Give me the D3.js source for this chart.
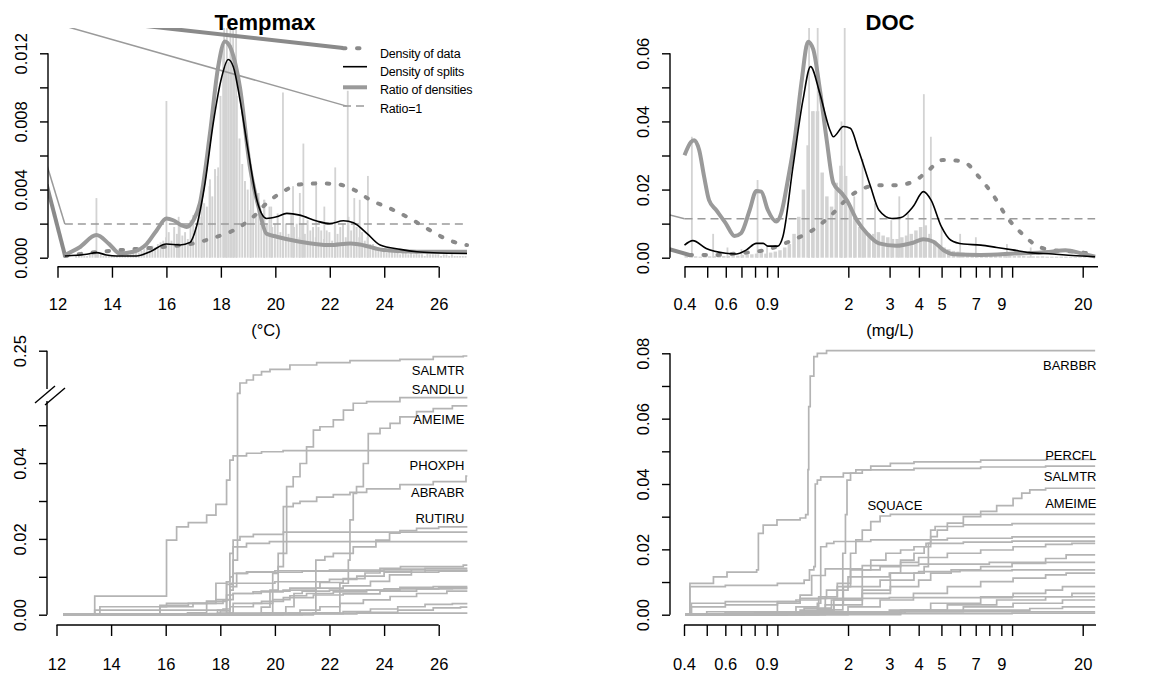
<!DOCTYPE html>
<html>
<head>
<meta charset="utf-8">
<script src="https://d3js.org/d3.v7.min.js"></script>
<style>
  body { margin: 0; background: #fff; }
  text { font-family: "Liberation Sans", Arial, sans-serif; fill: #000; }
</style>
</head>
<body>
<div id="chart"></div>
<script>
// ---- axis ticks / labels ----
const tempTicks = [12, 14, 16, 18, 20, 22, 24, 26];
const tempYTicks = [0, 0.002, 0.004, 0.006, 0.008, 0.010, 0.012];
const tempYLabels = [0, 0.004, 0.008, 0.012];
const docTicks = [0.4, 0.5, 0.6, 0.7, 0.8, 0.9, 1, 2, 3, 4, 5, 6, 7, 8, 9, 10, 20];
const docLabels = [0.4, 0.6, 0.9, 2, 3, 4, 5, 7, 9, 20];
const docYTicks = [0, 0.01, 0.02, 0.03, 0.04, 0.05, 0.06];
const docYLabels = [0, 0.02, 0.04, 0.06];
const tempCumYTicks = [0, 0.01, 0.02, 0.03, 0.04, 0.05, 0.25];
const tempCumYLabels = [0, 0.02, 0.04, 0.25];
const docCumYTicks = [0, 0.01, 0.02, 0.03, 0.04, 0.05, 0.06, 0.07, 0.08];
const docCumYLabels = [0, 0.02, 0.04, 0.06, 0.08];

// ---- Tempmax: split histogram (units of 1e-4), bins of 0.1 from 12.3 ----
const tempHistStart = 12.3, tempHistStep = 0.1;
const tempHist = [
  0, 0, 0, 0, 1, 1, 1,
  1, 1, 2, 2, 2, 3, 2, 1, 1, 1,
  1, 1, 1, 1, 2, 1, 2, 2, 3, 3,
  3, 4, 5, 6, 6, 7, 6, 8, 9, 10,
  12, 15, 10, 18, 14, 20, 13, 15, 11, 22,
  25, 18, 28, 24, 32, 30, 42, 36, 52, 48,
  95, 125, 112, 115, 125, 110, 95, 70, 55, 45,
  40, 28, 45, 26, 38, 22, 34, 20, 30, 18,
  20, 26, 15, 24, 20, 14, 25, 18, 20, 12,
  20, 14, 22, 16, 18, 12, 18, 16, 11, 16,
  15, 10, 22, 14, 18, 20, 12, 24, 16, 20,
  18, 12, 15, 10, 12, 8, 8, 6, 6, 5,
  5, 3, 4, 5, 4, 3, 2, 3, 3, 2,
  3, 2, 3, 2, 2, 1, 3, 2, 2, 2,
  2, 1, 2, 2, 1, 2, 1, 1, 1, 1,
  1
];
const tempSpikes = [
  [13.43, 35], [16.0, 92], [16.45, 24], [17.3, 34], [17.6, 46], [17.9, 53],
  [18.12, 160], [18.22, 160], [18.35, 140], [18.45, 160], [18.56, 150],
  [19.1, 55], [19.6, 34], [19.85, 30], [20.28, 97], [20.65, 42], [20.9, 38],
  [21.03, 67], [21.5, 45], [21.8, 30], [22.2, 53], [22.66, 98], [22.9, 35],
  [23.1, 34], [23.4, 48]
];
const tempData = [
  [12.27, 0.0001], [13.56, 0.00035], [14.78, 0.0005], [16.0, 0.00065], [16.99, 0.00084],
  [17.85, 0.00123], [18.46, 0.0016], [19.19, 0.0024], [19.68, 0.0032], [20.3, 0.0039],
  [20.9, 0.0043], [21.64, 0.00436], [22.26, 0.00432], [22.87, 0.0040], [23.48, 0.0034],
  [24.2, 0.0029], [24.95, 0.0023], [25.69, 0.0016], [26.42, 0.0010], [27.04, 0.00074]
];
const tempSplits = [
  [12.27, 0.0001], [13.07, 0.0002], [13.43, 0.0003], [13.8, 0.00016], [14.17, 0.0001],
  [14.9, 0.0001], [15.4, 0.00035], [16.0, 0.0008], [16.5, 0.00075], [16.87, 0.0009],
  [17.1, 0.0018], [17.42, 0.0044], [17.72, 0.0079], [18.03, 0.0106], [18.27, 0.01164],
  [18.46, 0.0112], [18.7, 0.0093], [19.0, 0.0063], [19.32, 0.0034], [19.68, 0.0023],
  [20.05, 0.0024], [20.42, 0.0026], [20.9, 0.0025], [21.52, 0.00215], [22.0, 0.0020],
  [22.5, 0.00217], [22.87, 0.00205], [23.36, 0.00143], [23.85, 0.00074], [24.59, 0.00049],
  [25.2, 0.00035], [25.8, 0.00029], [27.04, 0.00025]
];
const tempRatio = [
  [12.27, 0.00016], [12.8, 0.0006], [13.43, 0.00133], [13.9, 0.0008], [14.29, 0.00025],
  [14.78, 0.00035], [15.27, 0.0008], [15.64, 0.0016], [16.0, 0.0023], [16.25, 0.0022],
  [16.56, 0.0019], [16.74, 0.0018], [16.99, 0.0022], [17.23, 0.0032], [17.6, 0.0073],
  [17.9, 0.0112], [18.15, 0.0127], [18.33, 0.0124], [18.7, 0.0100], [19.07, 0.0053],
  [19.38, 0.0030], [19.68, 0.0014], [20.05, 0.00123], [20.9, 0.00094], [22.0, 0.00074],
  [22.75, 0.00084], [23.1, 0.00078], [23.97, 0.00045], [25.2, 0.00035], [27.04, 0.00035]
];
const tempRatioOne = 0.00198;
const tempRange = [12.27, 27.04];
const tempThinLinks = [[[11.6, 0.0139], [22.62, 0.0089]], [[11.6, 0.0055], [12.27, 0.00198]]];
const tempThickLinks = [[[11.6, 0.01425], [22.49, 0.01231]], [[11.6, 0.0043], [12.27, 0.00016]]];

// ---- DOC: split histogram (units of 1e-4), log bins of 0.02 decades from 0.4 ----
const docHistStart = 0.4, docHistLogStep = 0.02;
const docHist = [
  5, 8, 4, 3, 3, 4, 5, 6, 5, 5,
  6, 6, 8, 8, 10, 12, 14, 12, 15, 18,
  22, 30, 40, 70, 120, 200, 330, 430, 430, 250,
  180, 150, 220, 270, 240, 150, 110, 90, 80, 70,
  70, 75, 65, 60, 55, 55, 60, 65, 70, 80,
  90, 95, 70, 50, 35, 30, 25, 20, 18, 15,
  14, 12, 10, 10, 9, 8, 8, 7, 6, 6,
  5, 5, 5, 4, 4, 4, 4, 3, 3, 3,
  3, 3, 2, 2, 2, 2, 1, 1
];
const docSpikes = [
  [0.43, 355], [0.53, 70], [0.61, 30], [0.7, 25], [0.82, 228], [0.9, 35],
  [1.36, 720], [1.42, 430], [1.48, 720], [1.87, 400], [1.93, 720], [2.12, 180],
  [2.3, 290], [2.6, 160], [3.05, 110], [3.3, 180], [3.6, 130], [4.2, 480],
  [4.5, 355], [5.0, 90], [6.0, 70], [7.0, 60], [9.5, 40], [12.0, 30]
];
const docData = [
  [0.42, 0.0008], [0.53, 0.0008], [0.69, 0.0013], [0.9, 0.0024], [1.16, 0.0052],
  [1.41, 0.0081], [1.72, 0.0130], [2.02, 0.0179], [2.33, 0.0204], [2.71, 0.0213],
  [3.2, 0.0213], [3.78, 0.0223], [4.32, 0.0252], [5.07, 0.0287], [5.78, 0.0285],
  [6.38, 0.0277], [7.2, 0.0238], [8.2, 0.0189], [9.6, 0.0115], [11.0, 0.0071],
  [13.0, 0.0032], [15.4, 0.0021], [18.2, 0.0018], [20.8, 0.0013], [22.6, 0.0005]
];
const docSplits = [
  [0.4, 0.0037], [0.434, 0.0050], [0.495, 0.0027], [0.60, 0.0013], [0.665, 0.0011],
  [0.735, 0.0023], [0.81, 0.0042], [0.867, 0.0042], [0.907, 0.0034], [1.0, 0.0034],
  [1.052, 0.0062], [1.161, 0.0267], [1.281, 0.0463], [1.38, 0.0561], [1.512, 0.0482],
  [1.668, 0.0375], [1.726, 0.0355], [1.906, 0.0385], [2.04, 0.0380], [2.21, 0.0316],
  [2.49, 0.0208], [2.70, 0.0140], [3.07, 0.0115], [3.36, 0.0118], [3.78, 0.0150],
  [4.18, 0.0194], [4.51, 0.0169], [4.99, 0.0091], [5.46, 0.0052], [6.2, 0.0040],
  [7.35, 0.0037], [8.6, 0.0030], [10.05, 0.0023], [11.84, 0.0015], [14.9, 0.0011],
  [16.9, 0.0008], [19.9, 0.0005], [22.6, 0.0003]
];
const docRatio = [
  [0.4, 0.0301], [0.427, 0.0340], [0.44, 0.0345], [0.462, 0.0316], [0.485, 0.0238],
  [0.509, 0.0169], [0.546, 0.0140], [0.60, 0.0101], [0.654, 0.0064], [0.697, 0.0072],
  [0.759, 0.0140], [0.81, 0.0196], [0.85, 0.0194], [0.907, 0.0140], [0.985, 0.0106],
  [1.035, 0.0131], [1.104, 0.0228], [1.18, 0.0346], [1.261, 0.0512], [1.347, 0.0634],
  [1.416, 0.0612], [1.512, 0.0494], [1.616, 0.0347], [1.726, 0.0219], [1.875, 0.0189],
  [1.97, 0.0169], [2.176, 0.0110], [2.404, 0.0071], [2.703, 0.0042], [3.196, 0.0035],
  [3.779, 0.0044], [4.177, 0.0054], [4.616, 0.0047], [5.10, 0.0022], [5.64, 0.0010],
  [7.35, 0.0008], [10.25, 0.0012], [14.29, 0.0017], [16.88, 0.0022], [19.94, 0.0012],
  [22.6, 0.0003]
];
const docRatioOne = 0.01145;
const docRange = [0.4, 22.6];
const docThinLinks = [[[0.3, 0.0136], [0.4, 0.01145]]];
const docThickLinks = [[[0.3, 0.0037], [0.42, 0.0008]]];

// ---- cumulative importance curves (step functions) ----
const tempCumEnd = 27.05;
const tempCumul = [
  [[12.24, 0], [13.40, 0.0049], [16.03, 0.0197], [16.40, 0.0232], [16.83, 0.0243], [17.50, 0.0263], [17.84, 0.0291], [18.23, 0.0355], [18.35, 0.0408], [18.47, 0.0419], [18.96, 0.0426], [19.51, 0.0430], [20.30, 0.0433]],
  [[12.24, 0], [17.60, 0.0003], [18.23, 0.0080], [18.47, 0.0144], [18.63, 0.065], [18.72, 0.1097], [18.96, 0.1227], [19.21, 0.1444], [19.51, 0.1588], [19.82, 0.1692], [20.55, 0.1879], [21.53, 0.1979], [22.75, 0.2066], [24.58, 0.2126], [25.80, 0.2239], [26.90, 0.2270]],
  [[12.24, 0], [19.50, 0.0005], [19.92, 0.0109], [20.12, 0.0162], [20.31, 0.0285], [20.43, 0.0338], [20.67, 0.0364], [20.92, 0.0399], [21.16, 0.0443], [21.41, 0.0487], [21.65, 0.0496], [22.14, 0.0514], [22.51, 0.0540], [22.87, 0.0558], [23.36, 0.0562], [24.58, 0.0573]],
  [[12.24, 0], [21.40, 0.0005], [22.38, 0.0083], [22.69, 0.0144], [22.75, 0.0250], [22.87, 0.0320], [22.99, 0.0338], [23.24, 0.0399], [23.42, 0.0478], [23.85, 0.0492], [24.22, 0.0505], [24.58, 0.0522], [25.19, 0.0536], [25.80, 0.0544], [26.50, 0.0551]],
  [[12.24, 0], [19.50, 0.0020], [19.82, 0.0065], [20.12, 0.0127], [20.31, 0.0162], [20.43, 0.0285], [20.67, 0.0294], [20.92, 0.0299], [21.53, 0.0310], [22.14, 0.0317], [22.75, 0.0323], [23.36, 0.0332], [24.58, 0.0343], [25.80, 0.0351], [27.00, 0.0366]],
  [[12.24, 0], [21.41, 0.0004], [21.50, 0.0144], [21.83, 0.0153], [22.14, 0.0162], [22.87, 0.0179], [23.70, 0.0197], [24.20, 0.0215], [24.58, 0.0222], [25.19, 0.0228], [26.00, 0.0232]],
  [[12.24, 0], [17.90, 0.0012], [18.23, 0.0087], [18.35, 0.0162], [18.47, 0.0197], [18.72, 0.0206], [19.21, 0.0212], [20.31, 0.0218]],
  [[12.24, 0], [18.00, 0.0010], [18.35, 0.0065], [18.47, 0.0179], [18.96, 0.0188], [19.80, 0.0193]],
  [[12.24, 0], [16.80, 0.0005], [17.50, 0.0035], [17.84, 0.0083], [18.23, 0.0087], [18.35, 0.0100], [18.47, 0.0109], [18.96, 0.0113], [20.00, 0.0116], [22.00, 0.0118], [24.00, 0.0120], [25.50, 0.0122]],
  [[12.24, 0], [15.79, 0.0025], [16.83, 0.0030], [17.84, 0.0040], [18.47, 0.0056], [19.50, 0.0062], [20.55, 0.0070], [21.65, 0.0085], [22.50, 0.0095], [23.30, 0.0110], [23.85, 0.0122], [24.60, 0.0127], [26.90, 0.0131]],
  [[12.24, 0], [13.59, 0.0021], [16.03, 0.0030], [17.50, 0.0035], [18.23, 0.0052], [18.47, 0.0056], [19.20, 0.0060], [20.30, 0.0065], [21.50, 0.0070], [22.50, 0.0076], [23.50, 0.0088], [24.20, 0.0105], [25.00, 0.0112], [26.00, 0.0115]],
  [[12.24, 0], [17.90, 0.0004], [18.35, 0.0021], [19.21, 0.0030], [19.92, 0.0040], [20.55, 0.0050], [21.16, 0.0056], [22.14, 0.0060], [23.36, 0.0065], [24.58, 0.0072], [25.80, 0.0074]],
  [[12.24, 0], [18.23, 0.0004], [18.47, 0.0030], [19.51, 0.0035], [20.31, 0.0045], [21.41, 0.0052], [22.50, 0.0055], [23.85, 0.0062], [25.19, 0.0068], [26.50, 0.0069]],
  [[12.24, 0], [19.82, 0.0004], [20.92, 0.0012], [21.65, 0.0021], [22.38, 0.0030], [23.24, 0.0039], [24.22, 0.0048], [25.19, 0.0056], [26.30, 0.0062]],
  [[12.24, 0], [20.30, 0.0003], [22.50, 0.0008], [23.50, 0.0015], [24.50, 0.0021], [25.50, 0.0027], [26.50, 0.0029]],
  [[12.24, 0], [21.00, 0.0002], [23.00, 0.0006], [24.50, 0.0012], [25.80, 0.0018], [26.80, 0.0020]],
  [[12.24, 0], [18.30, 0.0003], [20.50, 0.0004]],
  [[12.24, 0], [13.40, 0.0012], [18.10, 0.0015], [18.35, 0.0074], [18.60, 0.0083], [20.00, 0.0087], [22.00, 0.0093], [23.00, 0.0102], [24.00, 0.0112], [25.50, 0.0116]],
  [[12.24, 0], [15.79, 0.0021], [17.00, 0.0030], [18.10, 0.0039], [18.35, 0.0083], [18.60, 0.0109], [19.00, 0.0112], [21.00, 0.0115], [25.00, 0.0118]],
  [[12.24, 0], [18.40, 0.0004], [20.40, 0.0021], [20.70, 0.0056], [21.00, 0.0062], [22.00, 0.0065], [24.00, 0.0068], [26.00, 0.0071]]
];
const tempCumNames = ["SALMTR", "SANDLU", "AMEIME", "PHOXPH", "ABRABR", "RUTIRU"];
const tempCumNameY = [0.166, 0.0836, 0.0516, 0.0395, 0.0322, 0.0253];

const docCumEnd = 22.6;
const docCumul = [
  [[0.404, 0], [0.424, 0.0096], [0.534, 0.0116], [0.61, 0.0130], [0.816, 0.0137], [0.83, 0.0249], [0.87, 0.0274], [0.996, 0.0290], [1.25, 0.0296], [1.32, 0.0306], [1.35, 0.0444], [1.36, 0.0637], [1.38, 0.0730], [1.43, 0.0790], [1.48, 0.0800], [1.62, 0.0808]],
  [[0.404, 0], [0.60, 0.0005], [1.50, 0.0015], [1.90, 0.0188], [1.95, 0.0306], [1.98, 0.0412], [2.05, 0.0433], [2.16, 0.0443], [2.50, 0.0455], [3.03, 0.0463], [3.82, 0.0468], [7.35, 0.0473], [13.9, 0.0475]],
  [[0.404, 0], [0.424, 0.0086], [0.60, 0.0090], [1.00, 0.0096], [1.30, 0.0106], [1.37, 0.0137], [1.43, 0.0147], [1.45, 0.0400], [1.48, 0.0412], [1.53, 0.0422], [1.91, 0.0433], [2.30, 0.0443], [3.82, 0.0448], [7.35, 0.0452], [13.9, 0.0455]],
  [[0.404, 0], [0.90, 0.0003], [1.60, 0.0030], [2.30, 0.0086], [2.74, 0.0106], [3.03, 0.0127], [3.35, 0.0167], [3.82, 0.0188], [4.22, 0.0208], [4.50, 0.0239], [4.80, 0.0259], [5.30, 0.0280], [6.20, 0.0300], [7.35, 0.0316], [8.60, 0.0334], [10.1, 0.0356], [11.0, 0.0372], [11.9, 0.0382], [13.9, 0.0387]],
  [[0.404, 0], [1.30, 0.0005], [1.74, 0.0030], [1.91, 0.0086], [2.05, 0.0188], [2.16, 0.0229], [2.30, 0.0259], [2.50, 0.0285], [2.74, 0.0302], [3.03, 0.0307]],
  [[0.404, 0], [1.00, 0.0009], [1.48, 0.0035], [1.53, 0.0208], [1.62, 0.0218], [1.74, 0.0224], [2.50, 0.0229], [5.30, 0.0234], [10.0, 0.0238]],
  [[0.404, 0], [0.80, 0.0005], [1.25, 0.0014], [1.74, 0.0045], [2.30, 0.0075], [3.03, 0.0106], [3.82, 0.0127], [4.22, 0.0147], [4.40, 0.0218], [4.50, 0.0259], [4.70, 0.0270], [6.20, 0.0275], [10.0, 0.0279]],
  [[0.404, 0], [1.10, 0.0005], [1.60, 0.0055], [1.80, 0.0096], [2.05, 0.0137], [2.50, 0.0167], [2.90, 0.0188], [3.35, 0.0198], [3.82, 0.0208], [4.30, 0.0218], [6.20, 0.0222], [10.0, 0.0225]],
  [[0.404, 0], [0.60, 0.0009], [1.00, 0.0035], [1.25, 0.0050], [1.62, 0.0075], [2.00, 0.0116], [2.30, 0.0137], [2.74, 0.0147], [3.35, 0.0160], [4.00, 0.0175], [5.30, 0.0188], [7.35, 0.0198], [10.1, 0.0208], [13.9, 0.0215], [18.0, 0.0218]],
  [[0.404, 0], [1.00, 0.0005], [1.30, 0.0020], [1.70, 0.0045], [2.30, 0.0065], [3.03, 0.0086], [4.00, 0.0106], [4.50, 0.0127], [5.50, 0.0137], [7.35, 0.0147], [10.0, 0.0157], [13.9, 0.0172], [17.0, 0.0183]],
  [[0.404, 0], [0.80, 0.0009], [1.20, 0.0024], [1.50, 0.0055], [1.80, 0.0086], [2.30, 0.0116], [3.00, 0.0127], [4.00, 0.0132], [6.00, 0.0135], [10.0, 0.0137]],
  [[0.404, 0], [1.10, 0.0005], [2.00, 0.0024], [2.74, 0.0045], [3.80, 0.0065], [5.30, 0.0086], [7.35, 0.0101], [10.1, 0.0112], [13.9, 0.0122], [17.0, 0.0127]],
  [[0.404, 0], [1.50, 0.0005], [3.00, 0.0014], [4.50, 0.0035], [7.35, 0.0055], [10.1, 0.0065], [13.9, 0.0075], [16.4, 0.0086]],
  [[0.404, 0], [2.00, 0.0005], [3.50, 0.0014], [5.30, 0.0030], [8.60, 0.0045], [13.9, 0.0055], [18.0, 0.0065]],
  [[0.404, 0], [0.43, 0.0035], [0.60, 0.0040], [1.20, 0.0045], [1.50, 0.0050], [3.00, 0.0052], [10.0, 0.0055]],
  [[0.404, 0], [1.60, 0.0005], [3.35, 0.0014], [6.20, 0.0024], [10.1, 0.0035], [16.4, 0.0045]],
  [[0.404, 0], [1.00, 0.0003], [3.35, 0.0009], [6.20, 0.0014], [11.9, 0.0019], [16.4, 0.0024]],
  [[0.404, 0], [0.50, 0.0009]],
  [[0.404, 0], [3.35, 0.0003], [10.0, 0.0005]],
  [[0.404, 0], [0.43, 0.0024], [0.60, 0.0030], [1.00, 0.0040], [1.25, 0.0060], [1.40, 0.0120], [1.60, 0.0140], [2.30, 0.0150], [4.00, 0.0155], [8.00, 0.0160]]
];
const docCumNames = ["BARBBR", "PERCFL", "SALMTR", "AMEIME"];
const docCumNameY = [0.0764, 0.0486, 0.0424, 0.0341];
const docExtraName = ["SQUACE", 2.42, 0.0334];

// ---- colours ----
const C_BAR = "#d3d3d3", C_RATIO = "#9a9a9a", C_DATA = "#8a8a8a", C_CUM = "#b4b4b4";

const W = 1154, H = 675;
const svg = d3.select('#chart').append('svg')
  .attr('width', W).attr('height', H)
  .style('background', '#fff');

// scales
const xT = d3.scaleLinear().domain([12, 26]).range([57.5, 438.7]);
const yT = d3.scaleLinear().domain([0, 0.012]).range([257.7, 53.3]);
const xD = d3.scaleLog().domain([0.4, 20]).range([684.5, 1082.7]);
const yD = d3.scaleLinear().domain([0, 0.06]).range([257.7, 53.3]);
const xTb = d3.scaleLinear().domain([12, 26]).range([56.5, 438.7]);
const yTb = d3.scaleLinear().domain([0, 0.058, 0.25]).range([614.7, 394.9, 350.7]);
const xDb = d3.scaleLog().domain([0.4, 20]).range([684, 1082.7]);
const yDb = d3.scaleLinear().domain([0, 0.08]).range([614.7, 353.3]);

const defs = svg.append('defs');
function addClip(id, x0, y0, x1, y1) {
  defs.append('clipPath').attr('id', id).append('rect')
    .attr('x', x0).attr('y', y0).attr('width', x1 - x0).attr('height', y1 - y0);
}
addClip('clipT', 48, 28, 472, 263);
addClip('clipD', 670, 28, 1100, 263);

function xAxis(scale, y, ticks, labels, fmt, x1) {
  const g = svg.append('g').attr('transform', `translate(0,${y})`)
    .call(d3.axisBottom(scale).tickValues(ticks).tickSize(11).tickSizeOuter(0)
      .tickFormat(d => labels.includes(d) ? fmt(d) : ''));
  g.select('.domain').remove();
  g.append('line').attr('x1', scale(ticks[0])).attr('x2', x1 != null ? x1 : scale(ticks[ticks.length - 1]));
  g.selectAll('line').attr('stroke', '#000').attr('stroke-width', 1.4);
  g.selectAll('text').attr('y', y > 400 ? 45 : 43.3).attr('dy', null)
    .style('font-size', '16.5px').attr('font-family', null);
}

function yAxis(scale, x, ticks, labels, fmt, drawDomain) {
  const g = svg.append('g').attr('transform', `translate(${x},0)`)
    .call(d3.axisLeft(scale).tickValues(ticks).tickSize(8).tickSizeOuter(0)
      .tickFormat(d => labels.includes(d) ? fmt(d) : ''));
  g.select('.domain').remove();
  if (drawDomain) {
    g.append('line').attr('y1', scale(ticks[0])).attr('y2', scale(ticks[ticks.length - 1]));
  }
  g.selectAll('line').attr('stroke', '#000').attr('stroke-width', 1.4);
  g.selectAll('text').attr('x', 0).attr('dy', null)
    .attr('text-anchor', 'middle')
    .attr('transform', 'translate(-21.3,0) rotate(-90)')
    .style('font-size', '16.5px').attr('font-family', null);
  return g;
}

// mass bars drawn as thin vertical strips, spikes as single lines
function drawHist(clipId, xs, ys, edges, vals, spikes, gap) {
  const g = svg.append('g').attr('clip-path', `url(#${clipId})`);
  g.selectAll('rect.mass').data(vals).join('rect').attr('class', 'mass')
    .attr('x', (d, i) => xs(edges[i][0]))
    .attr('width', (d, i) => Math.max(1.2, xs(edges[i][1]) - xs(edges[i][0]) - gap))
    .attr('y', d => ys(d * 1e-4))
    .attr('height', d => ys(0) - ys(d * 1e-4))
    .attr('fill', C_BAR);
  g.selectAll('rect.spike').data(spikes).join('rect').attr('class', 'spike')
    .attr('x', d => xs(d[0]) - 0.9).attr('width', 1.8)
    .attr('y', d => ys(d[1] * 1e-4))
    .attr('height', d => ys(0) - ys(d[1] * 1e-4))
    .attr('fill', C_BAR);
  return g;
}

function drawDensities(g, xs, ys, data, splits, ratio, ratioOne, range, thin, thick) {
  const smooth = d3.line().x(d => xs(d[0])).y(d => ys(d[1])).curve(d3.curveMonotoneX);
  const straight = d3.line().x(d => xs(d[0])).y(d => ys(d[1]));
  g.append('path').attr('d', straight([[range[0], ratioOne], [range[1], ratioOne]]))
    .attr('fill', 'none').attr('stroke', C_RATIO).attr('stroke-width', 1.5).attr('stroke-dasharray', '8 5');
  thin.forEach(seg => g.append('path').attr('d', straight(seg))
    .attr('fill', 'none').attr('stroke', C_RATIO).attr('stroke-width', 1.5));
  thick.forEach(seg => g.append('path').attr('d', straight(seg))
    .attr('fill', 'none').attr('stroke', C_DATA).attr('stroke-width', 4));
  g.append('path').attr('d', smooth(data))
    .attr('fill', 'none').attr('stroke', C_DATA).attr('stroke-width', 4)
    .attr('stroke-linecap', 'round').attr('stroke-dasharray', '2.5 11.5');
  g.append('path').attr('d', smooth(ratio))
    .attr('fill', 'none').attr('stroke', C_RATIO).attr('stroke-width', 4).attr('stroke-linejoin', 'round');
  g.append('path').attr('d', smooth(splits))
    .attr('fill', 'none').attr('stroke', '#000').attr('stroke-width', 1.6);
}

// ---------- top-left: Tempmax densities ----------
const tempEdges = tempHist.map((v, i) => [tempHistStart + i * tempHistStep - tempHistStep / 2, tempHistStart + i * tempHistStep + tempHistStep / 2]);
const gT = drawHist('clipT', xT, yT, tempEdges, tempHist, tempSpikes, 0.8);
drawDensities(gT, xT, yT, tempData, tempSplits, tempRatio, tempRatioOne, tempRange, tempThinLinks, tempThickLinks);
xAxis(xT, 266.7, tempTicks, tempTicks, d3.format('d'));
yAxis(yT, 48, tempYTicks, tempYLabels, d3.format('.3f'), true);

// legend
const legendLabels = ["Density of data", "Density of splits", "Ratio of densities", "Ratio=1"];
const legendLineY = [48.3, 66.7, 87.3, 106];
const legendTextY = [53.3, 71.5, 90, 108.3];
const legendStyles = [
  { stroke: C_DATA, w: 4, dash: '2.5 11.5', cap: 'round' },
  { stroke: '#000', w: 1.6, dash: null, cap: 'butt' },
  { stroke: C_RATIO, w: 4, dash: null, cap: 'butt' },
  { stroke: C_RATIO, w: 1.5, dash: '8 5', cap: 'butt' }
];
const leg = svg.append('g');
legendLabels.forEach((lab, i) => {
  leg.append('line').attr('x1', 343).attr('x2', 367)
    .attr('y1', legendLineY[i]).attr('y2', legendLineY[i])
    .attr('stroke', legendStyles[i].stroke).attr('stroke-width', legendStyles[i].w)
    .attr('stroke-linecap', legendStyles[i].cap)
    .attr('stroke-dasharray', legendStyles[i].dash);
  leg.append('text').attr('x', 380).attr('y', legendTextY[i]).attr('dy', '0.35em')
    .style('font-size', '12.5px').style('letter-spacing', '-0.2px').text(lab);
});

svg.append('text').attr('x', 265).attr('y', 30).attr('text-anchor', 'middle')
  .style('font-size', '22px').style('font-weight', 'bold').text('Tempmax');
svg.append('text').attr('x', 266).attr('y', 336).attr('text-anchor', 'middle')
  .style('font-size', '16.5px').text('(°C)');

// ---------- top-right: DOC densities ----------
const docEdges = docHist.map((v, i) => [docHistStart * Math.pow(10, i * docHistLogStep), docHistStart * Math.pow(10, (i + 1) * docHistLogStep)]);
const gD = drawHist('clipD', xD, yD, docEdges, docHist, docSpikes, 1.2);
drawDensities(gD, xD, yD, docData, docSplits, docRatio, docRatioOne, docRange, docThinLinks, docThickLinks);
xAxis(xD, 266.7, docTicks, docLabels, d => String(d), 1098);
yAxis(yD, 670, docYTicks, docYLabels, d3.format('.2f'), true);

svg.append('text').attr('x', 890).attr('y', 30).attr('text-anchor', 'middle')
  .style('font-size', '22px').style('font-weight', 'bold').text('DOC');
svg.append('text').attr('x', 890).attr('y', 336).attr('text-anchor', 'middle')
  .style('font-size', '16.5px').text('(mg/L)');

// ---------- bottom panels: cumulative importance ----------
function drawCumul(xs, ys, curves, xEnd) {
  const step = d3.line().x(d => xs(d[0])).y(d => ys(d[1])).curve(d3.curveStepAfter);
  const g = svg.append('g');
  g.selectAll('path').data(curves).join('path')
    .attr('d', c => step(c.concat([[xEnd, c[c.length - 1][1]]])))
    .attr('fill', 'none').attr('stroke', C_CUM).attr('stroke-width', 1.7);
  return g;
}

drawCumul(xTb, yTb, tempCumul, tempCumEnd);
xAxis(xTb, 625, tempTicks, tempTicks, d3.format('d'));
const gyTb = yAxis(yTb, 47, tempCumYTicks, tempCumYLabels, d3.format('.2f'), false);
// broken axis line
gyTb.append('line').attr('y1', yTb(0)).attr('y2', 401).attr('stroke', '#000').attr('stroke-width', 1.4);
gyTb.append('line').attr('y1', 389).attr('y2', yTb(0.25)).attr('stroke', '#000').attr('stroke-width', 1.4);
svg.append('line').attr('x1', 35).attr('y1', 403).attr('x2', 55).attr('y2', 386)
  .attr('stroke', '#000').attr('stroke-width', 1.4);
svg.append('line').attr('x1', 45).attr('y1', 405).attr('x2', 65).attr('y2', 388)
  .attr('stroke', '#000').attr('stroke-width', 1.4);

svg.append('g').selectAll('text').data(tempCumNames).join('text')
  .attr('x', 464.5).attr('y', (d, i) => yTb(tempCumNameY[i])).attr('dy', '0.35em')
  .attr('text-anchor', 'end').style('font-size', '13px').text(d => d);

drawCumul(xDb, yDb, docCumul, docCumEnd);
xAxis(xDb, 625, docTicks, docLabels, d => String(d), 1096);
yAxis(yDb, 670, docCumYTicks, docCumYLabels, d3.format('.2f'), true);

svg.append('g').selectAll('text').data(docCumNames).join('text')
  .attr('x', 1096.5).attr('y', (d, i) => yDb(docCumNameY[i])).attr('dy', '0.35em')
  .attr('text-anchor', 'end').style('font-size', '13px').text(d => d);
svg.append('text').attr('x', xDb(docExtraName[1])).attr('y', yDb(docExtraName[2])).attr('dy', '0.35em')
  .style('font-size', '13px').text(docExtraName[0]);
</script>
</body>
</html>
